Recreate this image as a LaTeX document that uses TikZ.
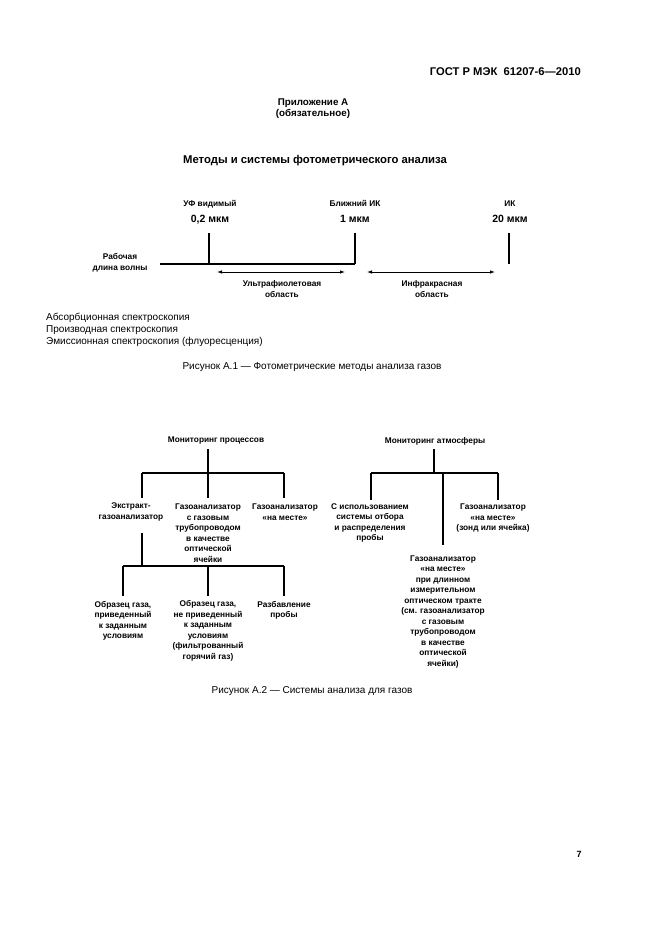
\documentclass[tikz,border=0pt]{standalone}
\usepackage{fontspec}
\setmainfont{Liberation Sans}
\usetikzlibrary{arrows.meta}
\begin{document}
\begin{tikzpicture}[x=1pt,y=-1pt,
  lbl/.style={inner sep=0pt,font=\bfseries\fontsize{8.3}{10.5}\selectfont,align=center},
  big/.style={inner sep=0pt,font=\bfseries\fontsize{10.5}{12}\selectfont},
  reg/.style={inner sep=0pt,font=\fontsize{10}{12}\selectfont},
  tl/.style={line width=1.8pt},
  arr/.style={line width=0.8pt,{Latex[length=5pt,width=3.5pt]}-{Latex[length=5pt,width=3.5pt]}}]
\useasboundingbox (0,0) rectangle (661,936);
% header
\node[inner sep=0pt,anchor=east,font=\bfseries\fontsize{11.2}{13}\selectfont] (hdr) at (581,72) {ГОСТ Р МЭК\ \ 61207-6—2010};
\node[inner sep=0pt,align=center,font=\bfseries\fontsize{9.8}{11}\selectfont] (app) at (313,109) {Приложение А\\(обязательное)};
\node[big,font=\bfseries\fontsize{11.3}{13}\selectfont] (ttl) at (315,161) {Методы и системы фотометрического анализа};
% scale
\node[lbl,anchor=base] (uv) at (210,206.5) {УФ видимый};
\node[big,anchor=base] (uvv) at (210,222) {0,2 мкм};
\node[lbl,anchor=base] (nir) at (355,206.5) {Ближний ИК};
\node[big,anchor=base] (nirv) at (355,222) {1 мкм};
\node[lbl,anchor=base] (ir) at (510,206.5) {ИК};
\node[big,anchor=base] (irv) at (510,222) {20 мкм};
\coordinate (v1t) at (209,233); \coordinate (v1b) at (209,264);
\coordinate (v2t) at (355,233); \coordinate (v2b) at (355,264);
\coordinate (v3t) at (509,233); \coordinate (v3b) at (509,264);
\coordinate (h0) at (160,264);
\draw[tl] (v1t) -- (v1b);
\draw[tl] (v2t) -- (v2b);
\draw[tl] (v3t) -- (v3b);
\draw[line width=1.5pt] (h0) -- (v2b);
\node[lbl] (wl) at (120,263) {Рабочая\\длина волны};
\coordinate (a1l) at (217,272); \coordinate (a1r) at (345,272);
\coordinate (a2l) at (367,272); \coordinate (a2r) at (495,272);
\draw[arr] (a1l) -- (a1r);
\draw[arr] (a2l) -- (a2r);
\node[lbl] (uvr) at (282,289) {Ультрафиолетовая\\область};
\node[lbl] (irr) at (432,289) {Инфракрасная\\область};
\node[reg,anchor=west,align=left] (list) at (46,330) {Абсорбционная спектроскопия\\Производная спектроскопия\\Эмиссионная спектроскопия (флуоресценция)};
\node[reg] (cap1) at (312,367) {Рисунок А.1 — Фотометрические методы анализа газов};
% figure 2 - process
\node[lbl] (mp) at (216,441) {Мониторинг процессов};
\coordinate (ps) at (208,449); \coordinate (pm) at (208,498);
\coordinate (pbl) at (142,473); \coordinate (pbr) at (284,473);
\coordinate (pl) at (142,498); \coordinate (pr) at (284,498);
\draw[tl] (ps) -- (pm);
\draw[tl] (pbl) -- (pbr);
\draw[tl] (pbl) -- (pl);
\draw[tl] (pbr) -- (pr);
\node[lbl] (c1) at (131,512) {Экстракт-\\газоанализатор};
\node[lbl] (c2) at (208,533) {Газоанализатор\\с газовым\\трубопроводом\\в качестве\\оптической\\ячейки};
\node[lbl] (c3) at (285,512) {Газоанализатор\\«на месте»};
\coordinate (es) at (142,533); \coordinate (em) at (142,566);
\coordinate (ebl) at (123,566); \coordinate (ebr) at (284,566);
\coordinate (ebm) at (208,566);
\coordinate (el) at (123,596); \coordinate (emm) at (208,596); \coordinate (er) at (284,596);
\draw[tl] (es) -- (em);
\draw[tl] (ebl) -- (ebr);
\draw[tl] (ebl) -- (el);
\draw[tl] (ebm) -- (emm);
\draw[tl] (ebr) -- (er);
\node[lbl] (g1) at (123,621) {Образец газа,\\приведенный\\к заданным\\условиям};
\node[lbl] (g2) at (208,631) {Образец газа,\\не приведенный\\к заданным\\условиям\\(фильтрованный\\горячий газ)};
\node[lbl] (g3) at (284,610.5) {Разбавление\\пробы};
% figure 2 - atmosphere
\node[lbl] (ma) at (435,441) {Мониторинг атмосферы};
\coordinate (as) at (434,449); \coordinate (asb) at (434,473);
\coordinate (abl) at (371,473); \coordinate (abr) at (498,473); \coordinate (abm) at (443,473);
\coordinate (al) at (371,500); \coordinate (ar) at (498,500); \coordinate (am) at (443,545);
\draw[tl] (as) -- (asb);
\draw[tl] (abl) -- (abr);
\draw[tl] (abl) -- (al);
\draw[tl] (abr) -- (ar);
\draw[tl] (abm) -- (am);
\node[lbl] (a1) at (370,522.75) {С использованием\\системы отбора\\и распределения\\пробы};
\node[lbl] (a2) at (493,518.5) {Газоанализатор\\«на месте»\\(зонд или ячейка)};
\node[lbl] (a3) at (443,611.5) {Газоанализатор\\«на месте»\\при длинном\\измерительном\\оптическом тракте\\(см. газоанализатор\\с газовым\\трубопроводом\\в качестве\\оптической\\ячейки)};
\node[reg] (cap2) at (312,691) {Рисунок А.2 — Системы анализа для газов};
\node[inner sep=0pt,font=\bfseries\fontsize{9}{11}\selectfont] (pg) at (579,854) {7};
\end{tikzpicture}
\end{document}
